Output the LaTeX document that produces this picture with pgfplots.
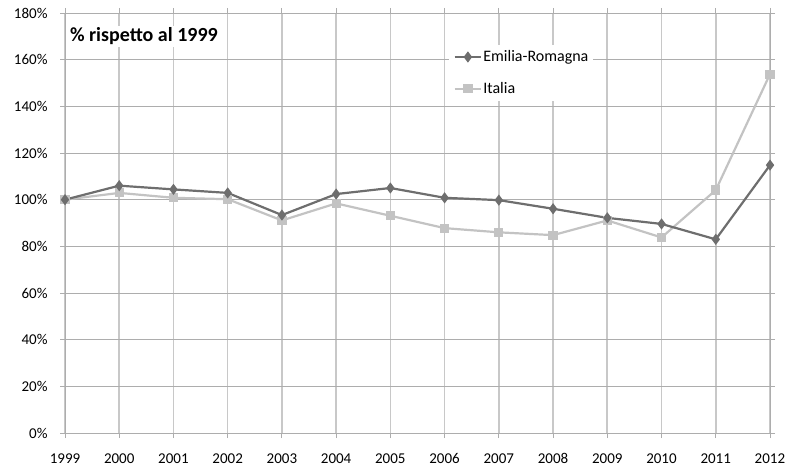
\documentclass[border=0pt]{standalone}
\usepackage{pgfplots}
\pgfplotsset{compat=1.18}
\usepackage{fontspec}
\setmainfont{Carlito}
\definecolor{er}{HTML}{6E6E6E}
\definecolor{it}{HTML}{C3C3C3}
\definecolor{gridv}{HTML}{C8C8C8}
\definecolor{gridh}{HTML}{ADADAD}
\begin{document}
\begin{tikzpicture}
\useasboundingbox (-65pt,-35pt) rectangle (726pt,433pt);
\begin{axis}[
  scale only axis, width=705pt, height=420pt,
  at={(0,0)}, anchor=south west,
  xmin=1999, xmax=2012, ymin=0, ymax=180,
  xtick={1999,...,2012}, ytick={0,20,...,180},
  xticklabel style={/pgf/number format/1000 sep=},
  yticklabel={\pgfmathprintnumber{\tick}\%},
  /pgf/number format/assume math mode=true,
  tick label style={font=\fontsize{15}{17}\selectfont, color=black},
  xticklabel style={yshift=-12pt, text height=10pt, text depth=0pt},
  yticklabel style={xshift=-9pt},
  tick align=outside, major tick length=5pt,
  tick style={gridh, line width=0.8pt},
  axis line style={gridh, line width=0.8pt},
  xmajorgrids, ymajorgrids,
  x grid style={gridv, line width=1.6pt},
  y grid style={gridh, line width=0.9pt},
  clip=false,
  reverse legend,
  legend style={at={(0.545,0.925)}, anchor=north west, draw=none, fill=white,
    font=\fontsize{16}{18}\selectfont, row sep=15pt, inner xsep=4pt, inner ysep=4pt,
    nodes={inner xsep=1pt}},
  legend cell align=left,
  legend image code/.code={\draw[mark repeat=2,mark phase=2] plot coordinates {(0cm,0cm)(0.47cm,0cm)(0.94cm,0cm)};},
]
\addplot[it, line width=2.2pt, mark=square*, mark size=3.5pt, mark options={solid, fill=it, draw=it}] coordinates {
(1999,100) (2000,102.9) (2001,100.8) (2002,100.2) (2003,91.1) (2004,98.4) (2005,93.1)
(2006,87.8) (2007,86.0) (2008,84.8) (2009,91.1) (2010,83.8) (2011,104.1) (2012,153.8)};
\addlegendentry{Italia}
\addplot[er, line width=2.2pt, mark=diamond*, mark size=3.8pt, mark options={solid, fill=er, draw=er}] coordinates {
(1999,100) (2000,106) (2001,104.4) (2002,102.9) (2003,93.4) (2004,102.4) (2005,105)
(2006,100.8) (2007,99.8) (2008,96.1) (2009,92.2) (2010,89.6) (2011,83) (2012,114.8)};
\addlegendentry{Emilia-Romagna}
\node[anchor=west, fill=white, inner sep=2pt, font=\bfseries\fontsize{20}{22}\selectfont]
  at (rel axis cs:0.004,0.945) {\% rispetto al 1999};
\end{axis}
\end{tikzpicture}
\end{document}
